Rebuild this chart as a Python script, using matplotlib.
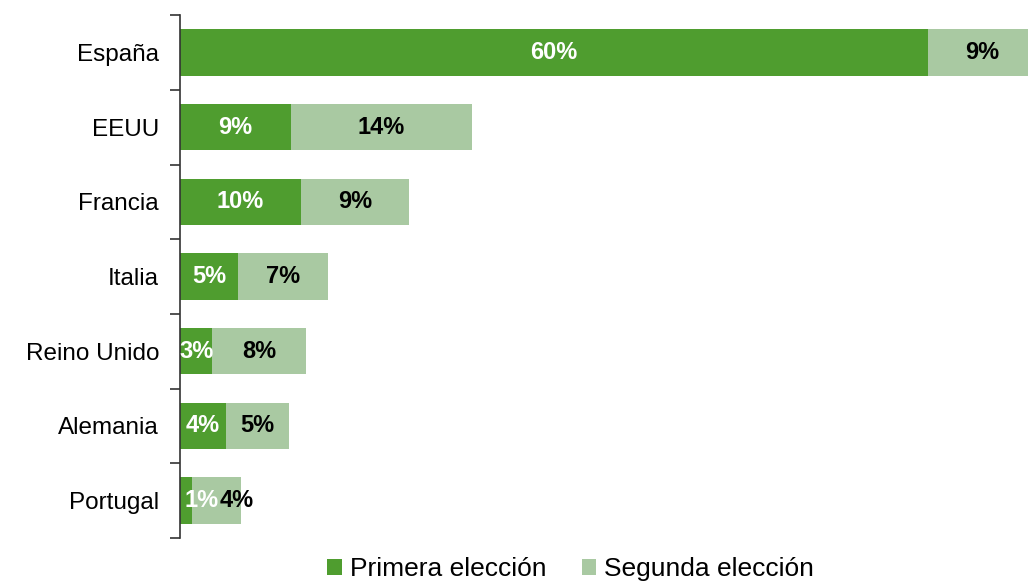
import numpy as np
import matplotlib.pyplot as plt

plt.rcParams['font.family'] = ['Liberation Sans', 'DejaVu Sans']

paises = ['España', 'EEUU', 'Francia', 'Italia', 'Reino Unido', 'Alemania', 'Portugal']
primera = [60, 8.9, 9.7, 4.65, 2.6, 3.7, 1.0]
segunda = [8.6, 14.5, 8.7, 7.2, 7.5, 5.05, 3.9]

verde = '#4f9d2f'
verde_claro = '#a9c9a2'

fig = plt.figure(figsize=(10.28, 5.81), dpi=100)
ax = fig.add_axes([0.175, 0.074, 0.825, 0.900])

y = np.arange(len(paises))
b1 = ax.barh(y, primera, height=0.62, color=verde, label='Primera elección')
b2 = ax.barh(y, segunda, left=primera, height=0.62, color=verde_claro, label='Segunda elección')

for i in range(len(paises)):
    x1 = primera[i] / 2
    x2 = primera[i] + segunda[i] / 2
    if primera[i] < 2:
        # segmento muy pequeño: desplazar etiquetas a la derecha
        x1 += 1.25
        x2 += 1.6
    ax.text(x1, y[i], f'{primera[i]:.0f}%', ha='center', va='center',
            color='white', fontsize=17, fontweight='bold')
    ax.text(x2, y[i], f'{segunda[i]:.0f}%', ha='center', va='center',
            color='black', fontsize=17, fontweight='bold')

ax.set_xlim(0, 68)
ax.set_ylim(len(paises) - 0.5, -0.5)
ax.set_yticks(y)
ax.set_yticklabels(paises, fontsize=17.5)
ax.tick_params(axis='y', length=0, pad=15)
ax.set_yticks(np.arange(-0.5, len(paises)), minor=True)
ax.tick_params(axis='y', which='minor', length=7, width=1.2, color='#333333')
ax.set_xticks([])
for s in ['top', 'right', 'bottom']:
    ax.spines[s].set_visible(False)
ax.spines['left'].set_color('#333333')
ax.spines['left'].set_linewidth(1.2)

fig.legend(handles=[b1, b2], loc='center', bbox_to_anchor=(0.555, 0.02), ncol=2,
           frameon=False, fontsize=19, handlelength=0.55, handleheight=0.55,
           handletextpad=0.3, columnspacing=1.35)

fig.savefig('out.png', dpi=100)
